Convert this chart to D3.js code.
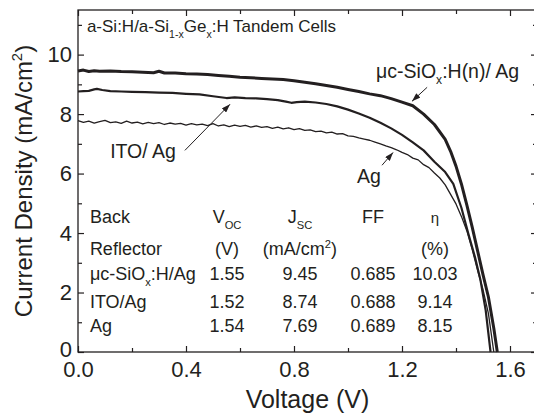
<!DOCTYPE html>
<html>
<head>
<meta charset="utf-8">
<script src="https://cdn.jsdelivr.net/npm/d3@7"></script>
<style>
  body { margin: 0; background: #fff; }
  text { font-family: "Liberation Sans", Arial, sans-serif; fill: #231f20; }
</style>
</head>
<body>
<svg width="534" height="417"></svg>
<script>
// J-V curves (V in volts, J in mA/cm2)
var siVolt = [0, 0.02, 0.04, 0.06, 0.08, 0.12, 0.16, 0.20, 0.24, 0.28, 0.30, 0.32, 0.36, 0.40, 0.44, 0.48,
  0.52, 0.56, 0.60, 0.64, 0.68, 0.72, 0.76, 0.80, 0.84, 0.88, 0.92, 0.96, 1.00, 1.04, 1.08, 1.12,
  1.16, 1.20, 1.24, 1.28, 1.32, 1.36, 1.38, 1.40, 1.42, 1.44, 1.46, 1.48, 1.50, 1.52, 1.54, 1.553];
var siCurr = [9.45, 9.48, 9.43, 9.46, 9.44, 9.45, 9.43, 9.42, 9.41, 9.39, 9.44, 9.38, 9.38, 9.36, 9.35, 9.33,
  9.30, 9.27, 9.24, 9.22, 9.20, 9.18, 9.16, 9.12, 9.07, 9.02, 8.96, 8.90, 8.83, 8.76, 8.68, 8.62,
  8.52, 8.40, 8.28, 8.00, 7.65, 7.15, 6.75, 6.25, 5.65, 4.95, 4.20, 3.40, 2.60, 1.85, 0.80, 0];

var itoVolt = [0, 0.02, 0.04, 0.06, 0.07, 0.09, 0.12, 0.16, 0.20, 0.25, 0.30, 0.35, 0.40, 0.45, 0.50, 0.55,
  0.58, 0.62, 0.66, 0.70, 0.74, 0.77, 0.79, 0.81, 0.84, 0.88, 0.92, 0.96, 1.00, 1.04, 1.08, 1.12,
  1.16, 1.20, 1.24, 1.28, 1.32, 1.36, 1.39, 1.42, 1.445, 1.47, 1.49, 1.51, 1.528];
var itoCurr = [8.76, 8.77, 8.78, 8.83, 8.85, 8.81, 8.77, 8.76, 8.75, 8.74, 8.72, 8.71, 8.68, 8.66, 8.60, 8.54,
  8.56, 8.54, 8.53, 8.50, 8.47, 8.42, 8.38, 8.40, 8.42, 8.39, 8.34, 8.26, 8.15, 8.02, 7.88, 7.71,
  7.52, 7.30, 7.05, 6.78, 6.40, 6.05, 5.65, 4.85, 4.00, 3.20, 2.45, 1.40, 0];

var agVolt = [0, 0.02, 0.04, 0.06, 0.08, 0.10, 0.12, 0.14, 0.16, 0.18, 0.20, 0.22, 0.24, 0.26, 0.28, 0.30,
  0.32, 0.34, 0.36, 0.38, 0.40, 0.42, 0.44, 0.46, 0.48, 0.50, 0.52, 0.54, 0.56, 0.58, 0.60, 0.62,
  0.64, 0.66, 0.68, 0.70, 0.72, 0.74, 0.76, 0.78, 0.80, 0.82, 0.84, 0.86, 0.88, 0.90, 0.92, 0.94,
  0.96, 0.98, 1.00, 1.02, 1.04, 1.06, 1.08, 1.10, 1.12, 1.14, 1.16, 1.18, 1.20, 1.22, 1.24, 1.26,
  1.28, 1.30, 1.32, 1.34, 1.36, 1.38, 1.40, 1.42, 1.44, 1.46, 1.48, 1.50, 1.52, 1.54];
var agCurr = [7.78, 7.72, 7.76, 7.70, 7.75, 7.79, 7.71, 7.74, 7.69, 7.76, 7.70, 7.73, 7.67, 7.72, 7.68, 7.71,
  7.65, 7.70, 7.66, 7.69, 7.63, 7.68, 7.64, 7.66, 7.61, 7.68, 7.60, 7.64, 7.58, 7.63, 7.59, 7.62,
  7.56, 7.60, 7.55, 7.58, 7.52, 7.56, 7.50, 7.54, 7.48, 7.51, 7.45, 7.47, 7.41, 7.43, 7.37, 7.39,
  7.33, 7.34, 7.27, 7.25, 7.20, 7.16, 7.12, 7.06, 7.00, 6.93, 6.87, 6.80, 6.71, 6.64, 6.52, 6.46,
  6.30, 6.20, 6.02, 5.85, 5.62, 5.30, 4.98, 4.56, 4.08, 3.45, 2.75, 2.10, 1.30, 0];

// table values
var reflectors = [[["μc-SiO"], ["x", "sub"], [":H/Ag"]], [["ITO/Ag"]], [["Ag"]]];
var vocVals = [1.55, 1.52, 1.54];
var jscVals = [9.45, 8.74, 7.69];
var ffVals = [0.685, 0.688, 0.689];
var etaVals = [10.03, 9.14, 8.15];

var xMajor = [0, 0.4, 0.8, 1.2, 1.6];
var xMinor = [0.2, 0.6, 1.0, 1.4];
var yMajor = [0, 2, 4, 6, 8, 10];
var yMinor = [1, 3, 5, 7, 9, 11];

var svg = d3.select("svg");
var x = d3.scaleLinear().domain([0, 1.7]).range([78, 537]);
var y = d3.scaleLinear().domain([0, 11.5]).range([352, 10]);

function rich(sel, parts, size) {
  var shift = 0;
  parts.forEach(function(p) {
    var s = p[1] === "sub" ? size * 0.32 : p[1] === "sup" ? -size * 0.42 : 0;
    sel.append("tspan")
      .attr("dy", s - shift)
      .attr("font-size", p[1] ? size * 0.62 : size)
      .text(p[0]);
    shift = s;
  });
}

// frame
svg.append("rect")
  .attr("x", x(0)).attr("y", y(11.5))
  .attr("width", x(1.7) - x(0)).attr("height", y(0) - y(11.5))
  .attr("fill", "none").attr("stroke", "#231f20").attr("stroke-width", 1.3);

function axisG(axis, tr) {
  var g = svg.append("g").attr("transform", tr).call(axis);
  g.select(".domain").remove();
  g.selectAll("line").attr("stroke", "#231f20").attr("stroke-width", 1.2);
  g.selectAll("text").attr("font-size", 22).attr("fill", "#231f20").style("font-size", "22px");
  return g;
}

axisG(d3.axisBottom(x).tickValues(xMajor).tickSize(-6).tickPadding(9).tickFormat(d3.format(".1f")),
  "translate(0," + y(0) + ")");
axisG(d3.axisBottom(x).tickValues(xMinor).tickSize(-4).tickFormat(""), "translate(0," + y(0) + ")");
axisG(d3.axisTop(x).tickValues(xMajor).tickSize(-6).tickFormat(""), "translate(0," + y(11.5) + ")");
axisG(d3.axisTop(x).tickValues(xMinor).tickSize(-4).tickFormat(""), "translate(0," + y(11.5) + ")");
var gy = axisG(d3.axisLeft(y).tickValues(yMajor).tickSize(-6).tickPadding(6), "translate(" + x(0) + ",0)");
gy.selectAll("text").filter(function(d) { return d === 0; }).attr("y", -3);
axisG(d3.axisLeft(y).tickValues(yMinor).tickSize(-4).tickFormat(""), "translate(" + x(0) + ",0)");
axisG(d3.axisRight(y).tickValues(yMajor).tickSize(-6).tickFormat(""), "translate(" + x(1.7) + ",0)");
axisG(d3.axisRight(y).tickValues(yMinor).tickSize(-4).tickFormat(""), "translate(" + x(1.7) + ",0)");

// axis titles
svg.append("text")
  .attr("x", (x(0) + x(1.7)) / 2).attr("y", 408)
  .attr("text-anchor", "middle").attr("font-size", 25)
  .text("Voltage (V)");

rich(svg.append("text")
  .attr("transform", "translate(32," + (y(0) + y(11.5)) / 2 + ") rotate(-90)")
  .attr("text-anchor", "middle").attr("font-size", 24),
  [["Current Density (mA/cm"], ["2", "sup"], [")"]], 24);

// curves
var line = d3.line().x(function(d) { return x(d[0]); }).y(function(d) { return y(d[1]); });
var series = [
  { v: siVolt, j: siCurr, w: 3.0 },
  { v: itoVolt, j: itoCurr, w: 2.2 },
  { v: agVolt, j: agCurr, w: 1.3 }
];
series.forEach(function(s) {
  svg.append("path")
    .datum(s.v.map(function(v, i) { return [v, s.j[i]]; }))
    .attr("d", line)
    .attr("fill", "none").attr("stroke", "#231f20")
    .attr("stroke-width", s.w).attr("stroke-linejoin", "round");
});

// annotations
svg.append("defs").append("marker")
  .attr("id", "head").attr("markerUnits", "userSpaceOnUse")
  .attr("viewBox", "0 0 10 7").attr("refX", 10).attr("refY", 3.5)
  .attr("markerWidth", 9).attr("markerHeight", 6).attr("orient", "auto")
  .append("path").attr("d", "M0,0L10,3.5L0,7Z").attr("fill", "#231f20");

var arrows = [[1.293, 8.90, 1.237, 8.43], [0.396, 6.78, 0.563, 8.33], [1.126, 6.28, 1.167, 6.71]];
arrows.forEach(function(a) {
  svg.append("line")
    .attr("x1", x(a[0])).attr("y1", y(a[1])).attr("x2", x(a[2])).attr("y2", y(a[3]))
    .attr("stroke", "#231f20").attr("stroke-width", 1).attr("marker-end", "url(#head)");
});

var labels = [
  { at: [1.104, 9.23], parts: [["μc-SiO"], ["x", "sub"], [":H(n)/ Ag"]], size: 19.5 },
  { at: [0.119, 6.51], parts: [["ITO/ Ag"]], size: 19.5 },
  { at: [1.033, 5.67], parts: [["Ag"]], size: 19.5 },
  { at: [0.033, 10.75], parts: [["a-Si:H/a-Si"], ["1-x", "sub"], ["Ge"], ["x", "sub"], [":H Tandem Cells"]], size: 17 }
];
labels.forEach(function(l) {
  rich(svg.append("text").attr("x", x(l.at[0])).attr("y", y(l.at[1])).attr("font-size", l.size), l.parts, l.size);
});

// inset table
var colX = [0.044, 0.552, 0.822, 1.093, 1.322];
var headY = [4.33, 3.25];
var rowY = [2.41, 1.47, 0.66];
var ts = 18;
var heads = [
  [[["Back"]], [["V"], ["OC", "sub"]], [["J"], ["SC", "sub"]], [["FF"]], [["η"]]],
  [[["Reflector"]], [["(V)"]], [["(mA/cm"], ["2", "sup"], [")"]], [[""]], [["(%)"]]]
];
heads.forEach(function(row, r) {
  row.forEach(function(cell, c) {
    var t = svg.append("text")
      .attr("x", x(colX[c])).attr("y", y(headY[r]))
      .attr("text-anchor", c === 0 ? "start" : "middle").attr("font-size", ts);
    rich(t, cell, (r === 0 && c === 4) ? 15 : ts);
  });
});
reflectors.forEach(function(name, r) {
  rich(svg.append("text").attr("x", x(colX[0])).attr("y", y(rowY[r])).attr("font-size", ts), name, ts);
  [vocVals[r].toFixed(2), jscVals[r].toFixed(2), ffVals[r].toFixed(3), etaVals[r].toFixed(2)].forEach(function(v, c) {
    svg.append("text")
      .attr("x", x(colX[c + 1])).attr("y", y(rowY[r]))
      .attr("text-anchor", "middle").attr("font-size", ts)
      .text(v);
  });
});
</script>
</body>
</html>
